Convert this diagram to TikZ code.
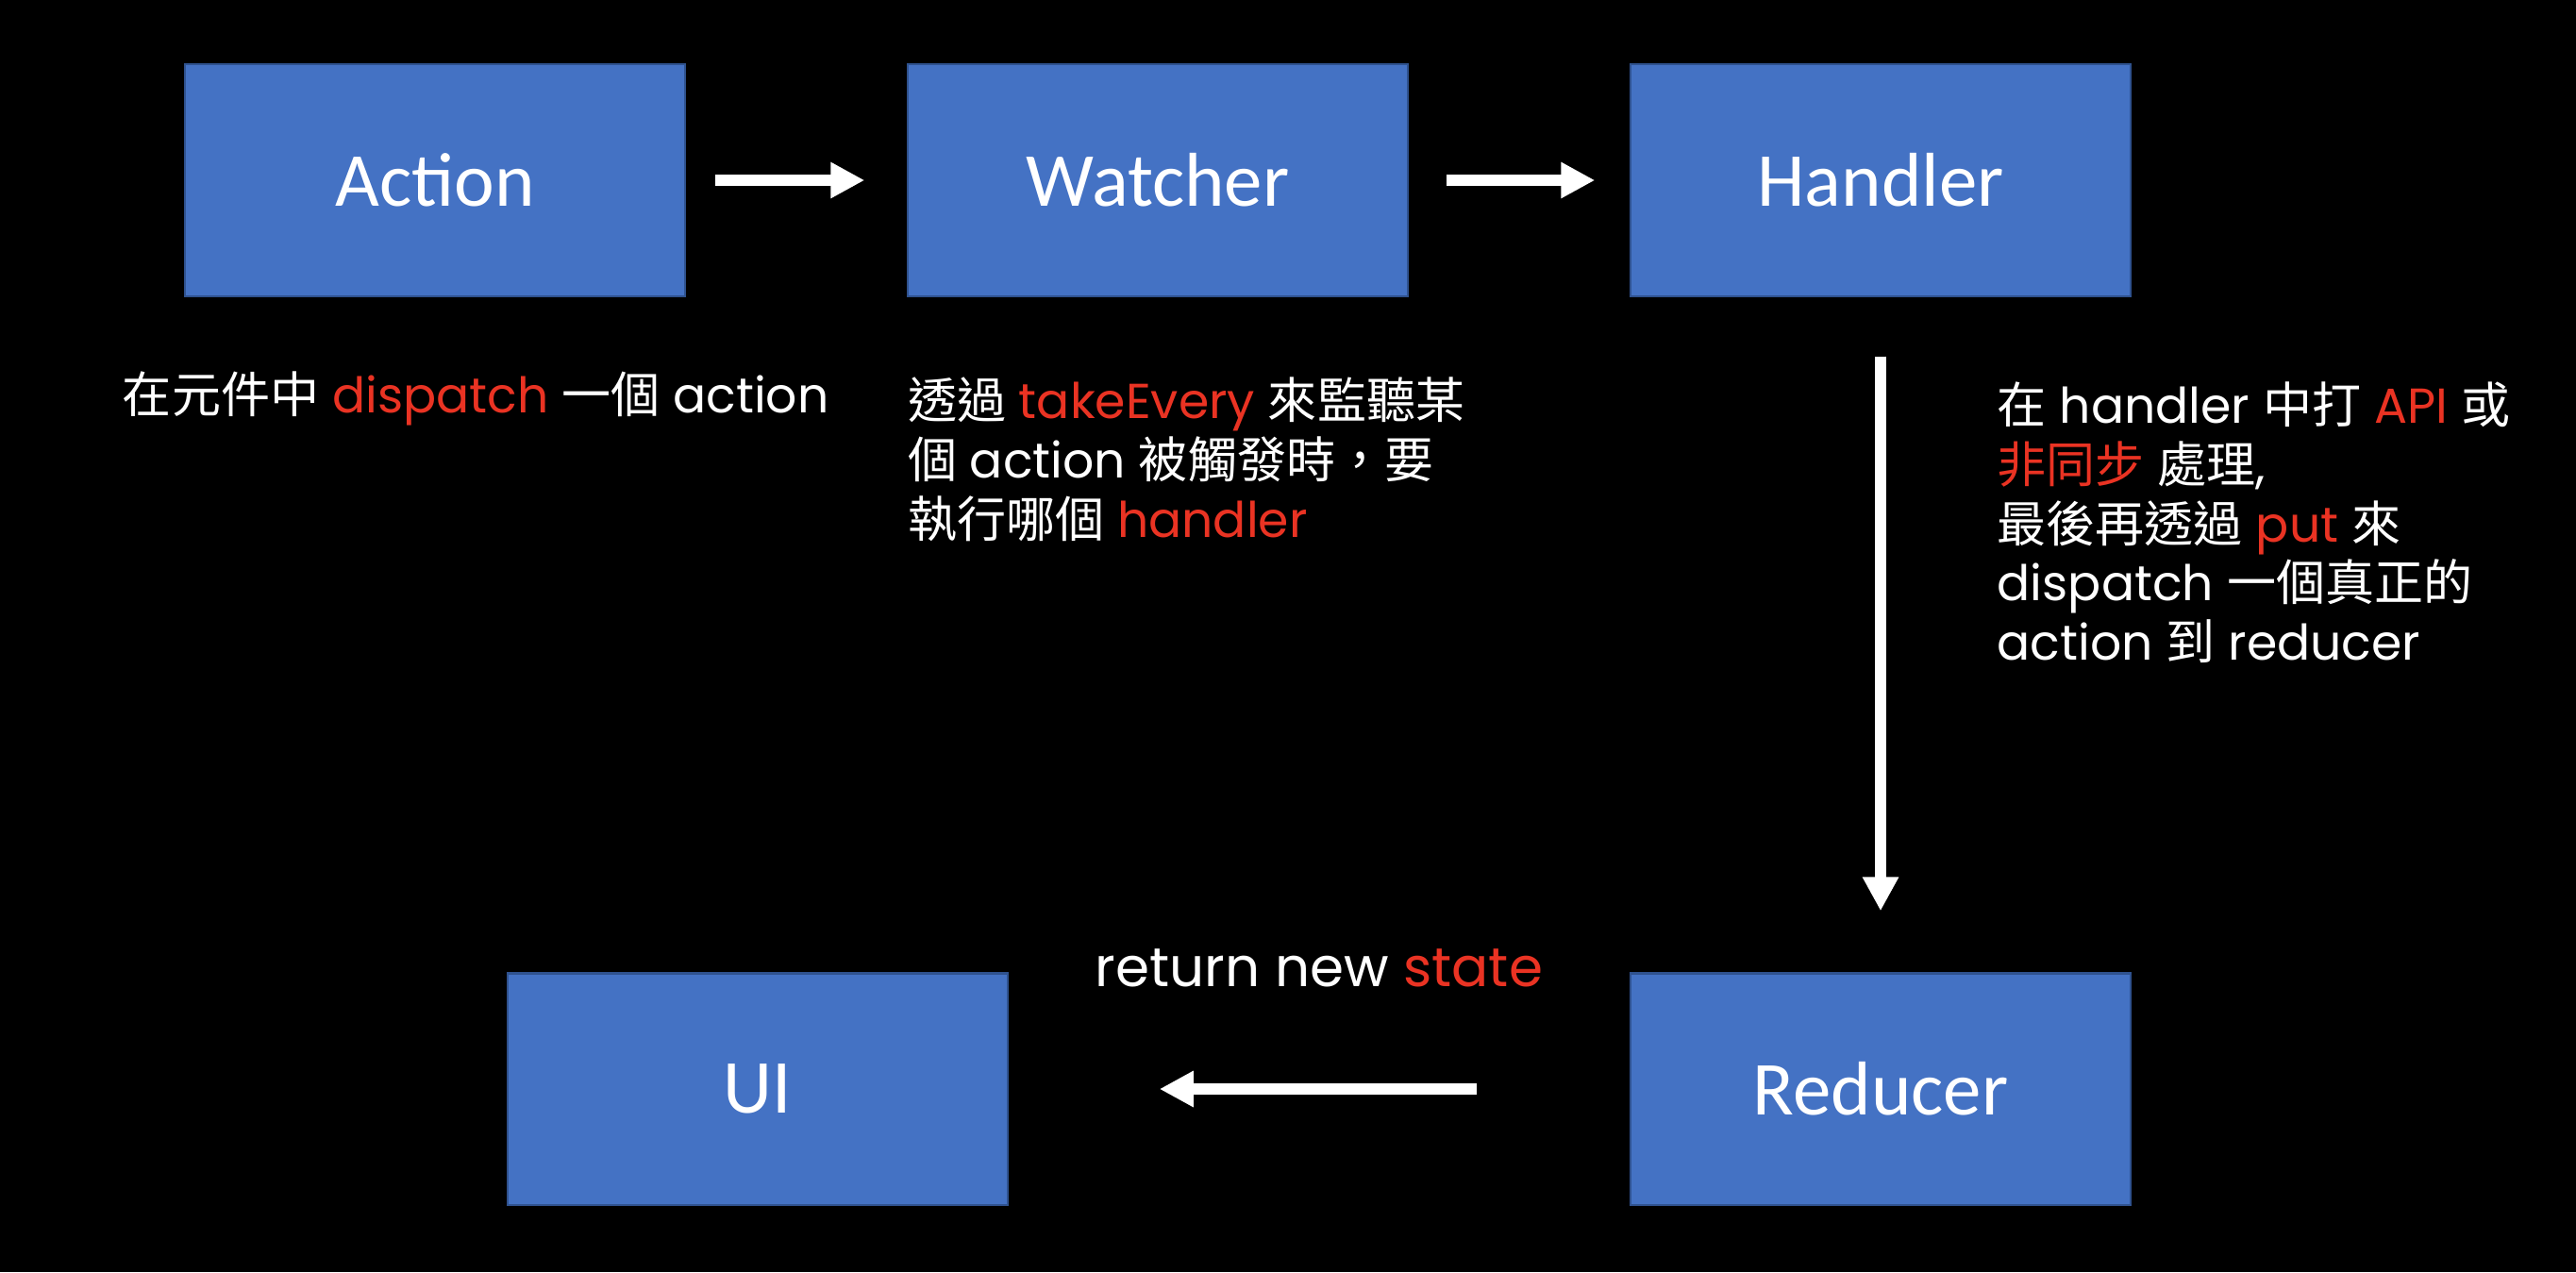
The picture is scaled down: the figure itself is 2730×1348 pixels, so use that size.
\documentclass[tikz,border=0pt]{standalone}
\usepackage{fontspec}
\usepackage{xcolor}
\setmainfont{Poppins}
\newfontfamily\boxfont{Carlito}
\newfontfamily\cjk{Noto Sans CJK TC}
\usetikzlibrary{positioning,arrows.meta}
\definecolor{boxblue}{HTML}{4472C4}
\definecolor{boxedge}{HTML}{2F528F}
\definecolor{hl}{HTML}{EA3323}
\newcommand{\zh}[1]{{\cjk #1}}
\newcommand{\hi}[1]{\textcolor{hl}{#1}}

\begin{document}
\begin{tikzpicture}[x=0.01cm,y=-0.01cm,
  box/.style={draw=boxedge,line width=0.6pt,fill=boxblue,text=white,
    minimum width=5.29cm,minimum height=2.45cm,
    font=\boxfont\fontsize{23pt}{28pt}\selectfont},
  note/.style={text=white,align=left,inner sep=0pt,
    font=\fontsize{14.8pt}{17.9pt}\selectfont},
  flow/.style={white,line width=0.12cm,-{Triangle[width=0.36cm,length=0.36cm]}}]
\fill[black] (0,0) rectangle (2730,1348);
\useasboundingbox (0,0) rectangle (2730,1348);
\node[box] (act) at (461,191) {Action};
\node[box] (watch) at (1227,191) {Watcher};
\node[box] (hand) at (1993,191) {Handler};
\node[box] (ui) at (803,1154) {UI};
\node[box] (red) at (1993,1154) {Reducer};
\node[note,below right=0.78cm and -0.66cm of act.south west] (actnote)
  {\zh{在元件中} \hi{dispatch} \zh{一個} action};
\node[note,below right=0.84cm and 0cm of watch.south west] (watchnote)
  {\zh{透過} \hi{takeEvery} \zh{來監聽某}\\\zh{個} action \zh{被觸發時，要}\\\zh{執行哪個} \hi{handler}};
\node[note,below right=0.89cm and 1.23cm of hand.south] (handnote)
  {\zh{在} handler \zh{中打} \hi{API} \zh{或}\\\hi{\zh{非同步}} \zh{處理},\\\zh{最後再透過} \hi{put} \zh{來}\\dispatch \zh{一個真正的}\\action \zh{到} reducer};
\draw[flow,shorten <=0.31cm,shorten >=0.45cm] (act.east) -- (watch.west);
\draw[flow,shorten <=0.40cm,shorten >=0.37cm] (watch.east) -- (hand.west);
\draw[flow,shorten <=0.63cm,shorten >=0.65cm] (hand.south) -- (red.north);
\draw[flow,shorten <=1.62cm,shorten >=1.60cm] (red.west) -- (ui.east)
  node[note,midway,above=1.02cm,font=\fontsize{16.5pt}{20pt}\selectfont] (retnote)
  {return new \hi{state}};
\end{tikzpicture}
\end{document}
